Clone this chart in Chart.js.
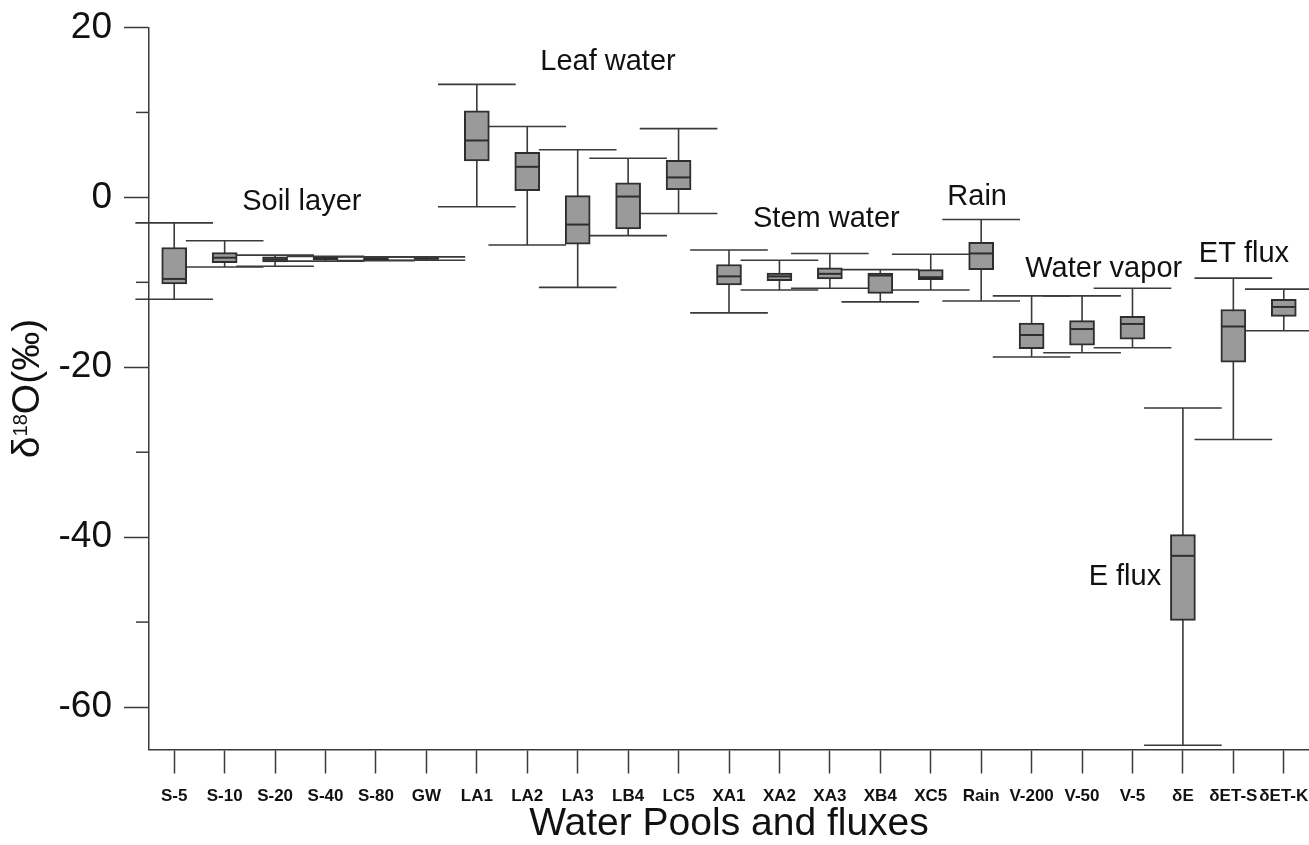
<!DOCTYPE html>
<html>
<head>
<meta charset="utf-8">
<script src="https://cdn.jsdelivr.net/npm/chart.js@4.4.1/dist/chart.umd.min.js"></script>
<style>
  html, body { margin: 0; padding: 0; background: #fff; }
  #wrap { width: 1309px; height: 845px; }
</style>
</head>
<body>
<div id="wrap"><canvas id="chart" width="1309" height="845"></canvas></div>
<script>
// ===== Data (δ18O, ‰) =====
const categories = ['S-5', 'S-10', 'S-20', 'S-40', 'S-80', 'GW', 'LA1', 'LA2', 'LA3', 'LB4', 'LC5',
  'XA1', 'XA2', 'XA3', 'XB4', 'XC5', 'Rain', 'V-200', 'V-50', 'V-5', 'δE', 'δET-S', 'δET-K'];

const whiskerHigh = [-3.0, -5.1, -6.8, -6.95, -7.0, -7.0, 13.3, 8.35, 5.6, 4.6, 8.1,
  -6.2, -7.4, -6.6, -8.5, -6.7, -2.6, -11.6, -11.6, -10.7, -24.8, -9.5, -10.8];
const boxHigh = [-5.9, -6.5, -7.0, -7.05, -7.1, -7.1, 10.2, 5.3, 0.2, 1.7, 4.35,
  -7.9, -8.9, -8.3, -8.9, -8.5, -5.3, -14.8, -14.5, -14.0, -39.7, -13.2, -12.0];
const medians = [-9.6, -7.1, -7.3, -7.2, -7.2, -7.2, 6.7, 3.6, -3.2, 0.1, 2.35,
  -9.3, -9.3, -9.0, -9.2, -9.4, -6.6, -16.2, -15.5, -14.9, -42.2, -15.2, -12.9];
const boxLow = [-10.2, -7.7, -7.6, -7.35, -7.35, -7.3, 4.3, 0.8, -5.5, -3.7, 0.9,
  -10.3, -9.8, -9.6, -11.3, -9.7, -8.5, -17.8, -17.4, -16.7, -49.8, -19.4, -14.0];
const whiskerLow = [-12.0, -8.2, -8.1, -7.5, -7.45, -7.4, -1.1, -5.6, -10.6, -4.5, -1.9,
  -13.6, -10.9, -10.7, -12.3, -10.9, -12.2, -18.8, -18.3, -17.7, -64.5, -28.5, -15.7];

const yTicks = [-60, -40, -20, 0, 20];
const yMinorTicks = [-50, -30, -10, 10];

// group labels, anchored in axis units (category index, ‰)
const groupLabels = ['Soil layer', 'Leaf water', 'Stem water', 'Rain', 'Water vapor', 'ET flux', 'E flux'];
const groupLabelX = [2.53, 8.60, 12.93, 15.92, 18.43, 21.21, 18.85];
const groupLabelY = [-1.54, 14.94, -3.48, -0.89, -9.37, -7.55, -45.63];

const FONT = "'Liberation Sans', Arial, sans-serif";
const INK = '#111';
const LINE = '#3a3a3a';

/* ===== Plugins ===== */

const boxPlot = {
  id: 'boxPlot',
  beforeDatasetsDraw(chart) {
    const { ctx, scales: { x, y } } = chart;
    const band = x.getPixelForValue(1) - x.getPixelForValue(0);
    const capHalf = band * 0.77;
    ctx.save();
    ctx.strokeStyle = LINE;
    ctx.lineWidth = 1.6;
    categories.forEach((c, i) => {
      const cx = x.getPixelForValue(i);
      const top = y.getPixelForValue(whiskerHigh[i]);
      const bot = y.getPixelForValue(whiskerLow[i]);
      ctx.beginPath();
      ctx.moveTo(cx, top); ctx.lineTo(cx, bot);
      ctx.moveTo(cx - capHalf, top); ctx.lineTo(cx + capHalf, top);
      ctx.moveTo(cx - capHalf, bot); ctx.lineTo(cx + capHalf, bot);
      ctx.stroke();
    });
    ctx.restore();
  },
  afterDatasetsDraw(chart) {
    const { ctx, scales: { y } } = chart;
    const meta = chart.getDatasetMeta(0);
    ctx.save();
    ctx.strokeStyle = '#2e2e2e';
    ctx.lineWidth = 2;
    meta.data.forEach((bar, i) => {
      const { x: bx, width } = bar.getProps(['x', 'width'], true);
      const my = y.getPixelForValue(medians[i]);
      ctx.beginPath();
      ctx.moveTo(bx - width / 2 + 1, my);
      ctx.lineTo(bx + width / 2 - 1, my);
      ctx.stroke();
    });
    ctx.restore();
  },
  afterDraw(chart) {
    const { ctx, scales: { x, y }, chartArea } = chart;
    ctx.save();

    // minor ticks on the y axis
    ctx.strokeStyle = LINE;
    ctx.lineWidth = 1.5;
    yMinorTicks.forEach(v => {
      const py = y.getPixelForValue(v);
      ctx.beginPath();
      ctx.moveTo(y.right - 13, py);
      ctx.lineTo(y.right, py);
      ctx.stroke();
    });

    // group labels
    ctx.fillStyle = INK;
    ctx.font = '29px ' + FONT;
    ctx.textAlign = 'center';
    ctx.textBaseline = 'alphabetic';
    const band = x.getPixelForValue(1) - x.getPixelForValue(0);
    groupLabels.forEach((t, i) => {
      const px = x.getPixelForValue(0) + groupLabelX[i] * band;
      ctx.fillText(t, px, y.getPixelForValue(groupLabelY[i]));
    });

    // y axis title: δ18O(‰) with superscript
    const parts = [
      { t: 'δ', size: 39, rise: 0 },
      { t: '18', size: 20, rise: 12 },
      { t: 'O(‰)', size: 39, rise: 0 }
    ];
    let total = 0;
    parts.forEach(p => { ctx.font = p.size + 'px ' + FONT; p.w = ctx.measureText(p.t).width; total += p.w; });
    ctx.translate(39, (chartArea.top + chartArea.bottom) / 2);
    ctx.rotate(-Math.PI / 2);
    ctx.textAlign = 'left';
    let cx = -total / 2;
    parts.forEach(p => {
      ctx.font = p.size + 'px ' + FONT;
      ctx.fillText(p.t, cx, -p.rise);
      cx += p.w;
    });
    ctx.restore();
  }
};

/* ===== Chart ===== */

new Chart(document.getElementById('chart'), {
  type: 'bar',
  data: {
    labels: categories,
    datasets: [{
      data: categories.map((c, i) => [boxLow[i], boxHigh[i]]),
      backgroundColor: '#9a9a9a',
      borderColor: '#2e2e2e',
      borderWidth: 2,
      borderSkipped: false,
      barThickness: 25
    }]
  },
  options: {
    responsive: false,
    animation: false,
    layout: { padding: { top: 27.5, right: 0, left: 0, bottom: 0 } },
    plugins: { legend: { display: false }, tooltip: { enabled: false } },
    scales: {
      x: {
        type: 'category',
        offset: true,
        grid: { offset: false, drawOnChartArea: false, tickLength: 24, tickColor: LINE, tickWidth: 1.5 },
        border: { color: LINE, width: 1.5 },
        ticks: { font: { family: FONT, size: 17, weight: 'bold' }, color: INK, padding: 13, maxRotation: 0, autoSkip: false },
        title: {
          display: true,
          text: 'Water Pools and fluxes',
          color: INK,
          font: { family: FONT, size: 39, lineHeight: 1 },
          padding: { top: 0, bottom: 1 }
        },
        afterFit: s => { s.height = 95.5; s.paddingLeft = 0; s.paddingRight = 0; }
      },
      y: {
        min: -65,
        max: 20,
        afterBuildTicks: s => { s.ticks = yTicks.map(v => ({ value: v })); },
        grid: { drawOnChartArea: false, tickLength: 25, tickColor: LINE, tickWidth: 1.5 },
        border: { color: LINE, width: 1.5 },
        ticks: { font: { family: FONT, size: 37 }, color: INK, padding: 12 },
        afterFit: s => { s.width = 149; s.paddingTop = 0; s.paddingBottom = 0; }
      }
    }
  },
  plugins: [boxPlot]
});
</script>
</body>
</html>
